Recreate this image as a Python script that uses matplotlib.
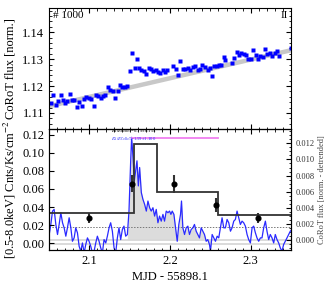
import numpy as np
import matplotlib
matplotlib.use("Agg")
import matplotlib.pyplot as plt
from matplotlib.ticker import MultipleLocator, FormatStrFormatter

plt.rcParams["font.family"] = "serif"
plt.rcParams["font.serif"] = ["Liberation Serif", "DejaVu Serif"]
plt.rcParams["mathtext.fontset"] = "stix"

#   CoRoT light curve (top panel)
corot_t = [2.0523, 2.0551, 2.0584, 2.0613, 2.0642, 2.0671, 2.0700, 2.0728, 2.0757, 2.0786,
           2.0815, 2.0848, 2.0877, 2.0905, 2.0934, 2.0963, 2.0992, 2.1025, 2.1053, 2.1082,
           2.1111, 2.1140, 2.1169, 2.1198, 2.1230, 2.1259, 2.1288, 2.1321, 2.1350, 2.1379,
           2.1407, 2.1436, 2.1469, 2.1498, 2.1531, 2.1560, 2.1588, 2.1617, 2.1646, 2.1675,
           2.1708, 2.1737, 2.1765, 2.1794, 2.1823, 2.1852, 2.1881, 2.1914, 2.1938, 2.1967,
           2.2037, 2.2070, 2.2099, 2.2128, 2.2156, 2.2185, 2.2218, 2.2251, 2.2284, 2.2309,
           2.2342, 2.2370, 2.2399, 2.2432, 2.2465, 2.2490, 2.2519, 2.2547, 2.2576, 2.2605,
           2.2634, 2.2663, 2.2687,
           2.2770, 2.2798, 2.2827, 2.2856, 2.2885, 2.2914, 2.2942, 2.2971, 2.3000, 2.3033,
           2.3062, 2.3091, 2.3119, 2.3148, 2.3177, 2.3206, 2.3239, 2.3267, 2.3296, 2.3325,
           2.3354, 2.3497]
corot_flux = [1.1136, 1.1168, 1.1130, 1.1144, 1.1168, 1.1148, 1.1136, 1.1143, 1.1170, 1.1149,
              1.1148, 1.1123, 1.1139, 1.1125, 1.1152, 1.1159, 1.1154, 1.1150, 1.1125, 1.1165,
              1.1164, 1.1157, 1.1164, 1.1167, 1.1198, 1.1186, 1.1183, 1.1157, 1.1183, 1.1205,
              1.1198, 1.1196, 1.1201, 1.1255, 1.1324, 1.1268, 1.1302, 1.1268, 1.1258, 1.1255,
              1.1246, 1.1266, 1.1264, 1.1255, 1.1261, 1.1251, 1.1249, 1.1258, 1.1254, 1.1261,
              1.1274, 1.1264, 1.1242, 1.1293, 1.1264, 1.1264, 1.1268, 1.1261, 1.1270, 1.1274,
              1.1261, 1.1265, 1.1278, 1.1271, 1.1261, 1.1268, 1.1239, 1.1276, 1.1276, 1.1279,
              1.1280, 1.1308, 1.1297,
              1.1287, 1.1305, 1.1327, 1.1314, 1.1321, 1.1318, 1.1317, 1.1302, 1.1299, 1.1333,
              1.1316, 1.1302, 1.1312, 1.1309, 1.1339, 1.1318, 1.1324, 1.1312, 1.1324, 1.1331,
              1.1312, 1.1343]
trend_t = [2.05, 2.35]
trend_flux = [1.1125, 1.1333]

#   Detrended CoRoT flux (bottom panel, right axis), in units of 1e-3
detr_t = [2.0502, 2.0522, 2.0543, 2.0563, 2.0584, 2.0605, 2.0625, 2.0646, 2.0667, 2.0687,
          2.0708, 2.0728, 2.0749, 2.0770, 2.0790, 2.0811, 2.0831, 2.0852, 2.0873, 2.0893,
          2.0914, 2.0935, 2.0955, 2.0976, 2.0996, 2.1017, 2.1038, 2.1058, 2.1079, 2.1099,
          2.1120, 2.1141, 2.1161, 2.1182, 2.1203, 2.1223, 2.1244, 2.1264, 2.1285, 2.1306,
          2.1326, 2.1347, 2.1367, 2.1388, 2.1409, 2.1429, 2.1450, 2.1471, 2.1491, 2.1512,
          2.1524, 2.1541, 2.1557, 2.1574, 2.1590, 2.1607, 2.1623, 2.1644, 2.1664, 2.1685,
          2.1706, 2.1726, 2.1747, 2.1767, 2.1788, 2.1809, 2.1829, 2.1850, 2.1870, 2.1891,
          2.1912, 2.1932, 2.1953, 2.1974, 2.1994, 2.2011,
          2.2027, 2.2048, 2.2068, 2.2089, 2.2109, 2.2130, 2.2142, 2.2159, 2.2180, 2.2200,
          2.2221, 2.2241, 2.2262, 2.2283, 2.2303, 2.2324, 2.2344, 2.2365, 2.2386, 2.2406,
          2.2427, 2.2448, 2.2468, 2.2489, 2.2501, 2.2522, 2.2542, 2.2563, 2.2584, 2.2604,
          2.2625, 2.2645, 2.2666, 2.2687, 2.2707, 2.2728, 2.2749, 2.2769, 2.2790, 2.2810,
          2.2831, 2.2852, 2.2872, 2.2893, 2.2913, 2.2934, 2.2955, 2.2975, 2.2996, 2.3017,
          2.3037, 2.3058, 2.3078, 2.3099, 2.3120, 2.3140, 2.3161, 2.3182, 2.3202, 2.3223,
          2.3243, 2.3264, 2.3285, 2.3305, 2.3326, 2.3347, 2.3367, 2.3388, 2.3408, 2.3429,
          2.3450, 2.3470, 2.3491, 2.3511]
detr_flux_e3 = [0.67, 1.92, 3.58, 3.79, 1.92, 0.67, 1.92, 3.38, 2.13, 1.50,
                0.46, 1.50, 2.75, 1.50, -0.17, 0.25, 1.50, 0.88, -0.79, -1.42,
                -0.38, -1.63, -0.58, 0.25, -0.17, -0.79, -1.63, -1.42, -0.38, 0.46,
                -0.17, -1.00, -1.63, 0.04, -0.38, 0.46, 1.50, 2.13, 1.08, -1.00,
                -1.63, 0.25, 1.50, 0.04, 1.29, 1.71, 0.46, 0.67, 3.58, 9.83,
                12.75, 10.25, 7.33, 8.58, 9.83, 6.71, 9.00, 5.88, 5.04, 4.42,
                3.58, 4.83, 4.00, 3.58, 4.00, 2.96, 3.79, 2.13, 2.96, 2.33,
                3.17, 2.33, 3.58, 3.38, 3.58, 3.17,
                3.58, 3.17, 1.50, -0.17, 1.92, 3.17, 4.83, 1.50, 0.67, 1.50,
                1.71, 0.67, 1.29, 1.50, 1.92, 1.08, 0.67, 0.25, 1.50, 1.08,
                0.67, -0.17, 0.04, -0.58, -1.42, 0.67, 0.25, -0.17, 0.46, 0.25,
                1.50, 2.75, 1.50, 1.50, 2.54, 2.13, 1.08, 1.50, 2.33, 2.54,
                3.58, 2.75, 1.92, 2.33, 2.13, 1.71, 0.67, 0.04, -0.38, 1.50,
                1.71, 0.88, 0.25, -0.17, 0.25, 0.25, 1.50, 2.33, 1.08, 0.04,
                0.67, 0.25, -0.38, 0.67, 0.04, -0.38, -1.00, -1.42, -0.58, -0.17,
                0.25, 0.67, 1.08, 1.29]
flare_start, flare_end = 2.147, 2.251
detr_3sigma = 0.0016
detr_base = [0.0, -0.00055]

#   X-ray count rate (left axis)
step_edges = [2.05, 2.1547, 2.1835, 2.2597, 2.35]
step_rates = [0.0333, 0.1096, 0.0562, 0.0311]
xray_t = [2.1000, 2.1527, 2.2045, 2.2568, 2.3086]
xray_rate = [0.0278, 0.0659, 0.0659, 0.0422, 0.0278]
xray_err = [0.0055, 0.0090, 0.0100, 0.0078, 0.0055]
flare_bar_t = [2.1532, 2.2595]
flare_bar_rate = 0.1167

fig = plt.figure(figsize=(3.27, 2.85), dpi=100)
ax1 = fig.add_axes([0.150, 0.547, 0.740, 0.425])
ax2 = fig.add_axes([0.150, 0.123, 0.740, 0.425])
ax2r = ax2.twinx()

#   Top panel
ax1.plot(trend_t, trend_flux, color="#c8c8c8", lw=3.2, solid_capstyle="butt", zorder=1)
ax1.plot(corot_t, corot_flux, "s", color="#0000ff", ms=2.2, mec="none", zorder=2)
ax1.set_xlim(2.05, 2.35)
ax1.set_ylim(1.104, 1.149)
ax1.yaxis.set_major_locator(MultipleLocator(0.01))
ax1.yaxis.set_minor_locator(MultipleLocator(0.002))
ax1.yaxis.set_major_formatter(FormatStrFormatter("%.2f"))
ax1.xaxis.set_major_locator(MultipleLocator(0.1))
ax1.xaxis.set_minor_locator(MultipleLocator(0.01))
ax1.tick_params(which="both", direction="in", top=True, right=True, labelbottom=False, labelsize=9)
ax1.tick_params(which="major", length=3.5)
ax1.tick_params(which="minor", length=1.8)
ax1.set_ylabel("CoRoT flux [norm.]", fontsize=9, labelpad=4)
ax1.text(0.015, 0.975, "# 1000", transform=ax1.transAxes, ha="left", va="top", fontsize=8)
ax1.text(0.985, 0.975, "II", transform=ax1.transAxes, ha="right", va="top", fontsize=8)

#   Bottom panel, right axis: detrended CoRoT flux
detr_flux = np.array(detr_flux_e3) * 1e-3
detr_t = np.array(detr_t)
in_flare = (detr_t >= flare_start) & (detr_t <= flare_end)
ax2r.fill_between(detr_t, 0, detr_flux, where=in_flare, color="#dcdcdc", lw=0, zorder=1)
for yb in detr_base:
    ax2r.axhline(yb, color="#d8d8d8", lw=1.3, zorder=1)
ax2r.axhline(detr_3sigma, color="#777777", lw=0.7, ls=(0, (1.5, 1.5)), zorder=2)
ax2r.plot(detr_t, detr_flux, color="#2a2aff", lw=0.9, zorder=3)
ax2r.set_ylim(-0.00125, 0.01381)
ax2r.yaxis.set_major_locator(MultipleLocator(0.002))
ax2r.yaxis.set_minor_locator(MultipleLocator(0.0005))
ax2r.yaxis.set_major_formatter(FormatStrFormatter("%.3f"))
ax2r.tick_params(which="both", direction="in", labelsize=6, labelcolor="#333333")
ax2r.tick_params(which="major", length=3.5)
ax2r.tick_params(which="minor", length=1.8)
ax2r.set_ylabel("CoRoT flux [norm. - detrended]", fontsize=6, color="#444444", labelpad=2)

#   Bottom panel, left axis: X-ray rate
ax2.set_zorder(ax2r.get_zorder() + 1)
ax2.patch.set_visible(False)
ax2.stairs(step_rates, step_edges, color="#333333", lw=1.3, baseline=None)
ax2.plot(flare_bar_t, [flare_bar_rate, flare_bar_rate], color="#f080f0", lw=1.3)
ax2.errorbar(xray_t, xray_rate, yerr=xray_err, fmt="o", color="black", ecolor="#333333",
             ms=3.4, elinewidth=1.5, capsize=0)
ax2.text(2.127, 0.1242, r"$E_{\rm X}/E_{\rm CoRoT}$=0.79±0.155", fontsize=3.4, ha="left", va="center")
ax2.text(2.127, 0.1152, r"$E_{\rm X}/E_{\rm CoRoT}$=1.59±1.100", fontsize=3.4, ha="left", va="center",
         color="#3333ff")
ax2.set_xlim(2.05, 2.35)
ax2.set_ylim(-0.0074, 0.1264)
ax2.yaxis.set_major_locator(MultipleLocator(0.02))
ax2.yaxis.set_major_formatter(FormatStrFormatter("%.2f"))
ax2.xaxis.set_major_locator(MultipleLocator(0.1))
ax2.xaxis.set_minor_locator(MultipleLocator(0.01))
ax2.tick_params(which="both", direction="in", top=True, labelsize=9)
ax2.tick_params(which="major", length=3.5)
ax2.tick_params(which="minor", length=1.8)
ax2.set_xlabel("MJD - 55898.1", fontsize=9, labelpad=3)
ax2.set_ylabel(r"[0.5-8.0keV] Cnts/Ks/cm$^{-2}$", fontsize=9, labelpad=3)

fig.savefig("out.png", dpi=100)
